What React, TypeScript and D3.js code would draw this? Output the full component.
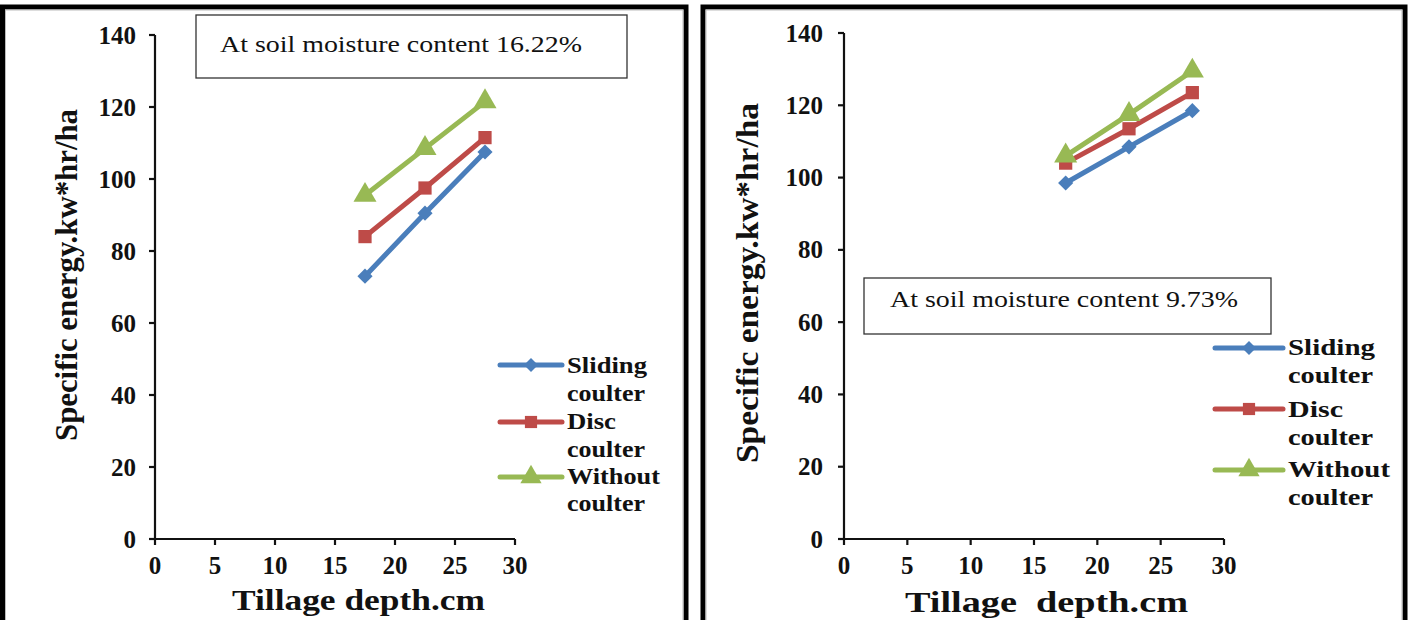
import React from "react";
import * as d3 from "d3";

const depths = [17.5, 22.5, 27.5];
const seriesNames = ["Sliding coulter", "Disc coulter", "Without coulter"];
const leftSliding = [73, 90.5, 107.5];
const leftDisc = [84, 97.5, 111.5];
const leftWithout = [95.5, 108.5, 121.5];
const rightSliding = [98.5, 108.5, 118.5];
const rightDisc = [104, 113.5, 123.5];
const rightWithout = [106, 117.5, 129.5];
const xTicks = [0, 5, 10, 15, 20, 25, 30];
const yTicks = [0, 20, 40, 60, 80, 100, 120, 140];
const colors = ["#4a7ebb", "#be4b48", "#98b954"];
const serif = "Liberation Serif";

type PanelCfg = {
  frame: [number, number, number];
  x0: number; x1: number; y0: number; y1: number;
  series: number[][];
  note: string;
  noteBox: [number, number, number, number];
  noteText: [number, number, number];
  legendX: [number, number, number];
  legendY: number[];
  legendTextY: number[][];
  legendLen: number[][];
  yTitle: [number, number, number, number];
  xTitle: string;
  xTitleGeom: [number, number, number, number];
  tickLabelEnd: number;
};

const panels: PanelCfg[] = [
  {
    frame: [2.5, 686, 7],
    x0: 155, x1: 515, y0: 539, y1: 35,
    series: [leftSliding, leftDisc, leftWithout],
    note: "At soil moisture content 16.22%",
    noteBox: [196, 15, 431, 63],
    noteText: [220, 52, 362],
    legendX: [500, 562, 567],
    legendY: [365, 422, 477],
    legendTextY: [[373, 401], [429, 457], [484, 511]],
    legendLen: [[80, 78], [49, 78], [93, 78]],
    yTitle: [77, 275, 332, 31],
    xTitle: "Tillage depth.cm",
    xTitleGeom: [232, 610, 253, 30],
    tickLabelEnd: 136,
  },
  {
    frame: [703, 1405, 7],
    x0: 844, x1: 1224, y0: 539, y1: 33,
    series: [rightSliding, rightDisc, rightWithout],
    note: "At soil moisture content 9.73%",
    noteBox: [864, 278, 407, 56],
    noteText: [890, 307, 348],
    legendX: [1215, 1283, 1288],
    legendY: [348, 409, 470],
    legendTextY: [[355, 383], [417, 445], [477, 505]],
    legendLen: [[87, 85], [55, 85], [102, 85]],
    yTitle: [758, 283, 360, 32],
    xTitle: "Tillage  depth.cm",
    xTitleGeom: [905, 612, 283, 30],
    tickLabelEnd: 823,
  },
];

function markerPath(si: number, size: number): string {
  if (si === 2) return d3.symbol().type(d3.symbolTriangle).size(size)() || "";
  return d3.symbol().type(d3.symbolSquare).size(size)() || "";
}

function Panel({ cfg }: { cfg: PanelCfg }) {
  const x = d3.scaleLinear().domain([0, 30]).range([cfg.x0, cfg.x1]);
  const y = d3.scaleLinear().domain([0, 140]).range([cfg.y0, cfg.y1]);
  const line = d3.line<number>().x((_, i) => x(depths[i])).y((d) => y(d));
  const [fx0, fx1, fy] = cfg.frame;
  const sizes = [115, 175, 230];
  return (
    <g>
      <rect x={fx0} y={fy} width={fx1 - fx0} height={640} fill="#fff" stroke="#000" strokeWidth={5} />
      <rect x={fx0 + 3} y={fy + 3} width={fx1 - fx0 - 6} height={640} fill="none" stroke="#bbb" strokeWidth={1} />
      <rect x={cfg.noteBox[0]} y={cfg.noteBox[1]} width={cfg.noteBox[2]} height={cfg.noteBox[3]} fill="#fff" stroke="#333" strokeWidth={1.3} />
      <text x={cfg.noteText[0]} y={cfg.noteText[1]} textLength={cfg.noteText[2]} lengthAdjust="spacingAndGlyphs" style={{ fontFamily: serif }} fontSize={24} fill="#111">{cfg.note}</text>
      {/* y axis */}
      <line x1={cfg.x0} x2={cfg.x0} y1={y(140)} y2={y(0)} stroke="#111" strokeWidth={2.2} />
      {yTicks.map((t) => (
        <g key={"y" + t}>
          <line x1={cfg.x0 - 6} x2={cfg.x0} y1={y(t)} y2={y(t)} stroke="#111" strokeWidth={2.2} />
          <text x={cfg.tickLabelEnd} y={y(t) + 8.5} textAnchor="end" style={{ fontFamily: serif }} fontWeight="bold" fontSize={25} fill="#111">{t}</text>
        </g>
      ))}
      {/* x axis */}
      <line x1={x(0)} x2={x(30)} y1={cfg.y0} y2={cfg.y0} stroke="#111" strokeWidth={2.2} />
      {xTicks.map((t) => (
        <g key={"x" + t}>
          <line x1={x(t)} x2={x(t)} y1={cfg.y0} y2={cfg.y0 + 6} stroke="#111" strokeWidth={2.2} />
          <text x={x(t)} y={cfg.y0 + 35} textAnchor="middle" style={{ fontFamily: serif }} fontWeight="bold" fontSize={25} fill="#111">{t}</text>
        </g>
      ))}
      {/* titles */}
      <text transform={`translate(${cfg.yTitle[0]},${cfg.yTitle[1]}) rotate(-90)`} textAnchor="middle" textLength={cfg.yTitle[2]} lengthAdjust="spacingAndGlyphs" style={{ fontFamily: serif }} fontWeight="bold" fontSize={cfg.yTitle[3]} fill="#111">Specific energy.kw*hr/ha</text>
      <text x={cfg.xTitleGeom[0]} y={cfg.xTitleGeom[1]} textLength={cfg.xTitleGeom[2]} lengthAdjust="spacingAndGlyphs" style={{ fontFamily: serif, whiteSpace: "pre" }} fontWeight="bold" fontSize={cfg.xTitleGeom[3]} fill="#111">{cfg.xTitle}</text>
      {/* series */}
      {cfg.series.map((s, si) => (
        <g key={"s" + si}>
          <path d={line(s) || ""} fill="none" stroke={colors[si]} strokeWidth={5} />
          {s.map((v, i) => (
            <path key={i} transform={`translate(${x(depths[i])},${y(v)})${si === 0 ? " rotate(45)" : ""}`} d={markerPath(si, sizes[si])} fill={colors[si]} />
          ))}
        </g>
      ))}
      {/* legend */}
      {seriesNames.map((name, si) => {
        const [w1, w2] = name.split(" ");
        const ly = cfg.legendY[si];
        const mx = (cfg.legendX[0] + cfg.legendX[1]) / 2;
        return (
          <g key={"l" + si}>
            <line x1={cfg.legendX[0]} x2={cfg.legendX[1]} y1={ly} y2={ly} stroke={colors[si]} strokeWidth={5} strokeLinecap="round" />
            <path transform={`translate(${mx},${ly})${si === 0 ? " rotate(45)" : ""}`} d={markerPath(si, sizes[si] * 0.85)} fill={colors[si]} />
            <text x={cfg.legendX[2]} y={cfg.legendTextY[si][0]} textLength={cfg.legendLen[si][0]} lengthAdjust="spacingAndGlyphs" style={{ fontFamily: serif }} fontWeight="bold" fontSize={23} fill="#111">{w1}</text>
            <text x={cfg.legendX[2]} y={cfg.legendTextY[si][1]} textLength={cfg.legendLen[si][1]} lengthAdjust="spacingAndGlyphs" style={{ fontFamily: serif }} fontWeight="bold" fontSize={23} fill="#111">{w2}</text>
          </g>
        );
      })}
    </g>
  );
}

export default function App() {
  return (
    <svg width={1409} height={620} style={{ position: "absolute", left: 0, top: 0, background: "#fff" }}>
      <rect x={0} y={0} width={1409} height={620} fill="#fff" />
      {panels.map((p, i) => (
        <Panel key={i} cfg={p} />
      ))}
    </svg>
  );
}
